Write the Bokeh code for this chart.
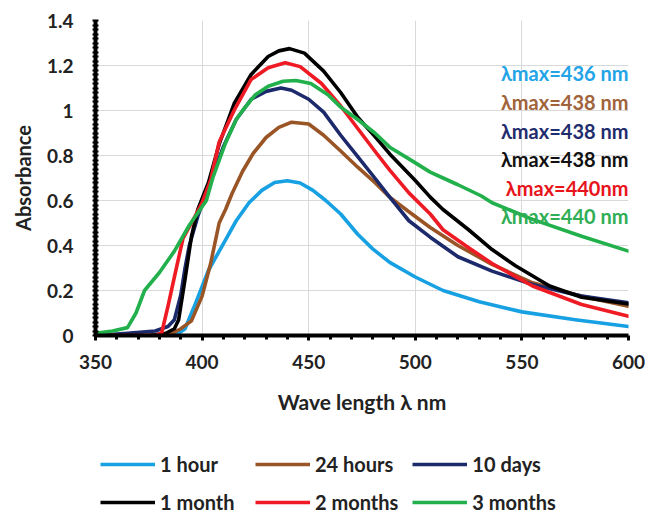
from bokeh.plotting import figure
from bokeh.layouts import column
from bokeh.models import Legend, LegendItem, ColumnDataSource, Range1d, FixedTicker
from bokeh.embed import file_html
from bokeh.resources import INLINE
from bokeh.core.properties import value

# ---------------- data ----------------
series_names = ["1 hour", "24 hours", "10 days", "1 month", "2 months", "3 months"]
series_colors = ["#17a1e3", "#9a5526", "#1c2a6b", "#000000", "#ee1b24", "#21b04b"]
peak_labels = ["λmax=436 nm", "λmax=438 nm", "λmax=438 nm", "λmax=438 nm", "λmax=440nm", "λmax=440 nm"]
label_colors = ["#22a4e6", "#a0633a", "#1f2d6e", "#111111", "#e8141b", "#2fae55"]

x_ticks = [350, 400, 450, 500, 550, 600]
x_minor = [360, 370, 380, 390, 410, 420, 430, 440, 460, 470, 480, 490,
           510, 520, 530, 540, 560, 570, 580, 590]
y_ticks = [0, 0.2, 0.4, 0.6, 0.8, 1.0, 1.2, 1.4]
y_tick_labels = ["0", "0.2", "0.4", "0.6", "0.8", "1", "1.2", "1.4"]

wl_1h = [350, 375, 386, 389, 392, 397, 403, 411, 416, 422, 428, 434, 440, 446, 452, 458, 465, 473, 480, 488, 500, 513, 530, 550, 575, 600]
ab_1h = [0, 0, 0, 0.01, 0.03, 0.145, 0.29, 0.425, 0.51, 0.59, 0.645, 0.68, 0.688, 0.678, 0.645, 0.6, 0.54, 0.45, 0.385, 0.325, 0.26, 0.2, 0.15, 0.105, 0.07, 0.04]

wl_24h = [350, 382, 386, 390, 395, 400, 404, 408, 411, 414, 419, 424, 430, 436, 442, 450, 457, 465, 473, 481, 488, 497, 507, 520, 536, 555, 578, 600]
ab_24h = [0, 0, 0.01, 0.03, 0.065, 0.175, 0.32, 0.5, 0.56, 0.63, 0.73, 0.81, 0.88, 0.925, 0.948, 0.94, 0.89, 0.82, 0.748, 0.68, 0.615, 0.55, 0.48, 0.4, 0.316, 0.234, 0.175, 0.13]

wl_10d = [350, 365, 378, 384, 387, 390, 392, 394, 398, 403, 410, 416, 423, 430, 437, 442, 450, 457, 465, 473, 481, 488, 497, 507, 520, 536, 555, 578, 600]
ab_10d = [0, 0.01, 0.02, 0.04, 0.07, 0.18, 0.3, 0.4, 0.53, 0.66, 0.84, 0.96, 1.05, 1.085, 1.1, 1.09, 1.05, 0.993, 0.89, 0.795, 0.7, 0.615, 0.51, 0.437, 0.35, 0.286, 0.227, 0.175, 0.145]

wl_1m = [350, 375, 383, 387, 389, 392, 395, 398, 403, 408, 415, 423, 431, 436, 441, 448, 457, 465, 473, 481, 488, 500, 507, 513, 525, 536, 547, 563, 578, 600]
ab_1m = [0, 0, 0.01, 0.03, 0.07, 0.25, 0.44, 0.56, 0.68, 0.85, 1.03, 1.16, 1.24, 1.265, 1.275, 1.255, 1.175, 1.08, 0.97, 0.885, 0.807, 0.689, 0.615, 0.56, 0.47, 0.382, 0.31, 0.22, 0.17, 0.14]

wl_2m = [350, 378, 381, 384, 387, 391, 395, 400, 404, 408, 415, 423, 431, 439, 446, 456, 465, 473, 481, 488, 497, 507, 513, 525, 536, 555, 578, 600]
ab_2m = [0, 0, 0.01, 0.13, 0.26, 0.43, 0.5, 0.59, 0.69, 0.86, 1.0, 1.138, 1.19, 1.212, 1.195, 1.12, 1.02, 0.92, 0.82, 0.735, 0.634, 0.54, 0.47, 0.39, 0.32, 0.22, 0.138, 0.086]

wl_3m = [350, 358, 365, 369, 373, 380, 387, 394, 402, 405, 411, 416, 419, 425, 431, 438, 444, 451, 459, 465, 473, 481, 488, 497, 507, 513, 520, 531, 536, 555, 578, 600]
ab_3m = [0.01, 0.02, 0.035, 0.1, 0.2, 0.28, 0.375, 0.49, 0.6, 0.7, 0.856, 0.96, 1.0, 1.07, 1.108, 1.13, 1.133, 1.12, 1.07, 1.015, 0.96, 0.9, 0.837, 0.785, 0.726, 0.7, 0.67, 0.62, 0.59, 0.516, 0.441, 0.375]

series_wl = [wl_1h, wl_24h, wl_10d, wl_1m, wl_2m, wl_3m]
series_ab = [ab_1h, ab_24h, ab_10d, ab_1m, ab_2m, ab_3m]

x_title = "Wave length λ nm"
y_title = "Absorbance"

# ---------------- main figure ----------------
FONT = "Lato"
p = figure(width=645, height=426,
           x_range=Range1d(350, 600), y_range=Range1d(0, 1.4),
           output_backend="svg", toolbar_location=None,
           min_border_left=95, min_border_right=17, min_border_top=20, min_border_bottom=91)
p.outline_line_color = None
p.background_fill_color = "white"
p.border_fill_color = "white"

p.xaxis.ticker = FixedTicker(ticks=x_ticks, minor_ticks=x_minor)
y_minor = [round(i * 0.02, 2) for i in range(71) if i % 10 != 0]
p.yaxis.ticker = FixedTicker(ticks=y_ticks, minor_ticks=y_minor)
p.yaxis.major_label_overrides = {t: s for t, s in zip(y_ticks, y_tick_labels)}

p.grid.grid_line_color = "#d9d9d9"
p.grid.grid_line_width = 1

for ax in (p.xaxis[0], p.yaxis[0]):
    ax.axis_line_width = 4
    ax.axis_line_color = "black"
    ax.major_tick_line_color = "black"
    ax.minor_tick_line_color = "black"
    ax.major_label_text_font = FONT
    ax.major_label_text_font_style = "bold"
    ax.major_label_text_font_size = "19px"
    ax.major_label_text_color = "#222222"
    ax.axis_label_text_font = FONT
    ax.axis_label_text_font_style = "bold"
    ax.axis_label_text_color = "#222222"

p.xaxis.axis_label_text_font_size = "21px"
p.yaxis.axis_label_text_font_size = "20px"

p.xaxis.major_tick_out = 5
p.xaxis.major_tick_in = 0
p.xaxis.major_tick_line_width = 3
p.xaxis.minor_tick_out = 4
p.xaxis.minor_tick_in = 0
p.xaxis.minor_tick_line_width = 3
p.xaxis.major_label_standoff = 14
p.xaxis.axis_label_standoff = 17
p.xaxis.axis_label = x_title

p.yaxis.major_tick_out = 3
p.yaxis.major_tick_in = 3
p.yaxis.major_tick_line_width = 2
p.yaxis.minor_tick_out = 3
p.yaxis.minor_tick_in = 3
p.yaxis.minor_tick_line_width = 2
p.yaxis.major_label_standoff = 19
p.yaxis.axis_label_standoff = 9
p.yaxis.axis_label = y_title

for name, col, wl, ab in zip(series_names, series_colors, series_wl, series_ab):
    p.line(wl, ab, line_color=col, line_width=3.6, line_join="round", line_cap="round")

# peak annotations (stacked at the right of the plot)
x_end = p.x_range.end
y_first, y_step = 1.165, 0.127
ann = ColumnDataSource(dict(
    x=[x_end] * len(peak_labels),
    y=[y_first - i * y_step for i in range(len(peak_labels))],
    t=peak_labels,
    c=label_colors,
))
p.text(x="x", y="y", text="t", text_color="c", source=ann, text_align="right",
       text_baseline="middle", text_font=value(FONT), text_font_style="bold",
       text_font_size="20px")

# ---------------- legend strip (series drawn out of view, legend only) ----------------
q = figure(width=645, height=88, x_range=Range1d(0, 1), y_range=Range1d(0, 1),
           output_backend="svg", toolbar_location=None,
           x_axis_type=None, y_axis_type=None,
           min_border_left=0, min_border_right=0, min_border_top=0, min_border_bottom=0)
q.outline_line_color = None
q.grid.visible = False
q.background_fill_color = "white"
q.border_fill_color = "white"

items = []
for name, col, wl, ab in zip(series_names, series_colors, series_wl, series_ab):
    r = q.line(wl, ab, line_color=col, line_width=3.6)
    items.append(LegendItem(label=name, renderers=[r]))

legend = Legend(items=items, location=(5, 0), orientation="horizontal", ncols=3,
                padding=0, margin=0, spacing=14,
                glyph_width=55, glyph_height=20, label_height=20, label_width=81,
                label_standoff=5,
                label_text_font=FONT, label_text_font_style="bold", label_text_font_size="20px",
                label_text_color="#222222",
                border_line_color=None, background_fill_alpha=0)
q.add_layout(legend)

layout = column(p, q, spacing=0)
open("out.html", "w").write(file_html(layout, INLINE))
